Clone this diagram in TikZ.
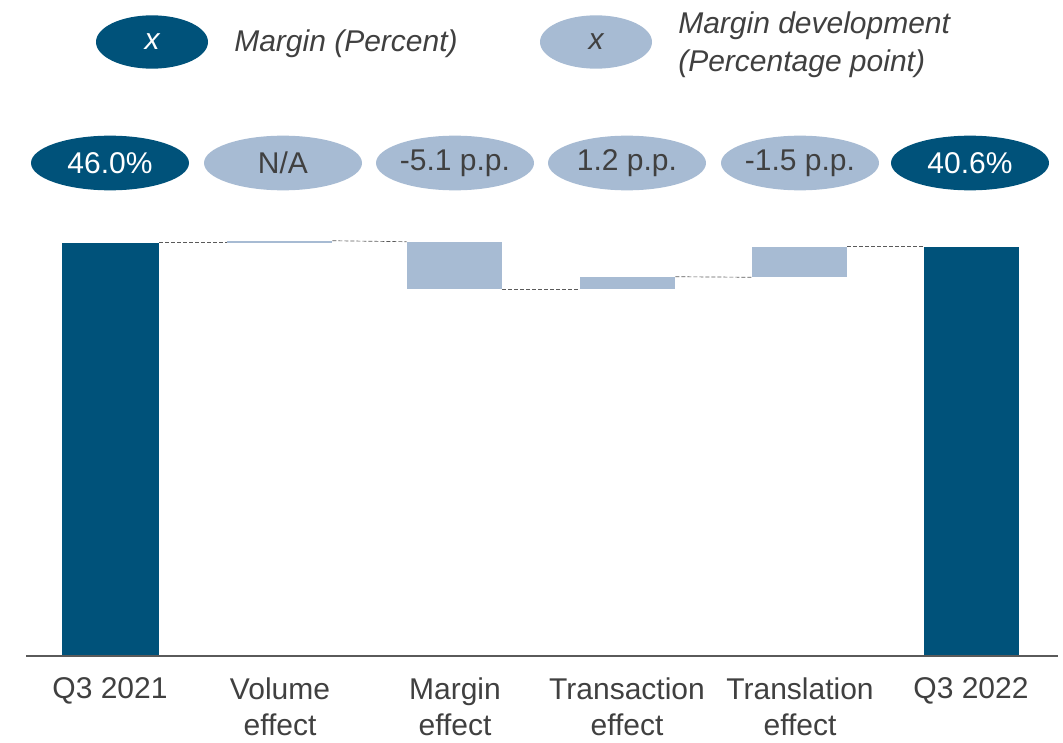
\documentclass[tikz,border=0pt]{standalone}
\usepackage{fontspec}
\setmainfont{Liberation Sans}
\usetikzlibrary{shapes.geometric,fit,positioning}

\definecolor{darkblue}{HTML}{00527A}
\definecolor{lightblue}{HTML}{A7BBD3}
\definecolor{textgray}{HTML}{404040}
\definecolor{linegray}{HTML}{5A5A5A}

\begin{document}
\begin{tikzpicture}[
    x=0.75pt, y=-0.75pt,
    darkbar/.style={rectangle, fill=darkblue, inner sep=0pt},
    lightbar/.style={rectangle, fill=lightblue, inner sep=0pt},
    darkbubble/.style={ellipse, fill=darkblue, text=white, minimum width=118.5pt, minimum height=41pt, inner sep=0pt, font=\fontsize{22.5}{27}\selectfont},
    lightbubble/.style={darkbubble, fill=lightblue, text=textgray},
    legenddark/.style={darkbubble, minimum width=84pt, minimum height=40pt, font=\fontsize{22.5}{27}\selectfont\itshape},
    legendlight/.style={legenddark, fill=lightblue, text=textgray},
    legendtext/.style={anchor=west, inner sep=0pt, text=textgray, align=left, font=\fontsize{22.5}{28.5}\selectfont\itshape},
    axislabel/.style={anchor=north, inner sep=0pt, text=textgray, align=center, font=\fontsize{22.5}{27.5}\selectfont},
    connector/.style={draw=linegray, dashed, dash pattern=on 3pt off 1.5pt, line width=0.5pt}
]
\useasboundingbox (0,0) rectangle (1063,742);

% Legend
\node[legenddark] (legend-margin) at (152,42) {x};
\node[legendtext] (legend-margin-text) at (234,44) {Margin (Percent)};
\node[legendlight] (legend-dev) at (596,42) {x};
\node[legendtext] (legend-dev-text) at (678,45) {Margin development\\(Percentage point)};

% Value bubbles
\node[darkbubble] (bubble-q21) at (110,163) {46.0\%};
\node[lightbubble] (bubble-vol) at (283,163) {N/A};
\node[lightbubble] (bubble-marg) at (455,163) {-5.1 p.p.};
\node[lightbubble] (bubble-trans) at (627,163) {1.2 p.p.};
\node[lightbubble] (bubble-transl) at (800,163) {-1.5 p.p.};
\node[darkbubble] (bubble-q22) at (970,163) {40.6\%};

% Bars
\node[darkbar, fit={(62,243) (159,655)}] (bar-q21) {};
\node[lightbar, fit={(227,241) (332,243)}] (bar-vol) {};
\node[lightbar, fit={(407,242) (502,289)}] (bar-marg) {};
\node[lightbar, fit={(580,277) (675,289)}] (bar-trans) {};
\node[lightbar, fit={(752,247) (847,277)}] (bar-transl) {};
\node[darkbar, fit={(924,247) (1019,655)}] (bar-q22) {};

% Dashed connectors
\draw[connector] (bar-q21.north east) -- (bar-q21.north east -| bar-vol.west);
\draw[connector] (bar-vol.north east) -- (bar-marg.north west);
\draw[connector] (bar-marg.south east) -- (bar-trans.south west);
\draw[connector] (bar-trans.north east) -- (bar-transl.south west);
\draw[connector] (bar-transl.north east) -- (bar-q22.north west);

% Axis
\coordinate (axis-left) at (26,656);
\coordinate (axis-right) at (1058,656);
\draw[linegray, line width=1.5pt] (axis-left) -- (axis-right);

% Category labels
\node[axislabel] (label-q21) at (110,677) {Q3 2021};
\node[axislabel] (label-vol) at (280,677) {Volume\\effect};
\node[axislabel] (label-marg) at (455,677) {Margin\\effect};
\node[axislabel] (label-trans) at (627,677) {Transaction\\effect};
\node[axislabel] (label-transl) at (800,677) {Translation\\effect};
\node[axislabel] (label-q22) at (971,677) {Q3 2022};

\end{tikzpicture}
\end{document}
